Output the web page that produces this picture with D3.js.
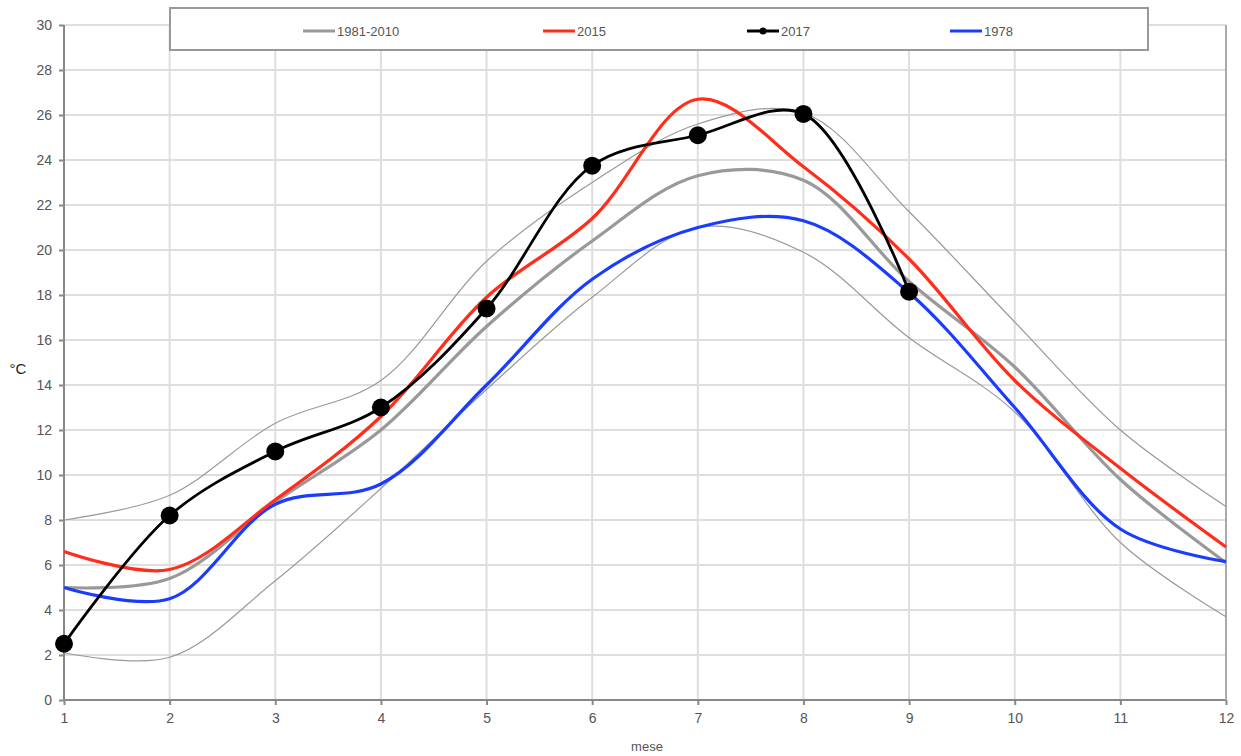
<!DOCTYPE html>
<html>
<head>
<meta charset="utf-8">
<script src="https://cdn.jsdelivr.net/npm/d3@7"></script>
<style>
  body { margin: 0; background: #fff; }
  svg { display: block; font-family: "Liberation Sans", Arial, sans-serif; }
</style>
</head>
<body>
<svg id="chart" width="1241" height="756"></svg>
<script>
const months = [1, 2, 3, 4, 5, 6, 7, 8, 9, 10, 11, 12];
const yTicks = [0, 2, 4, 6, 8, 10, 12, 14, 16, 18, 20, 22, 24, 26, 28, 30];
const mean19812010 = [5.0, 5.4, 8.8, 12.0, 16.6, 20.4, 23.3, 23.1, 18.6, 14.8, 9.8, 6.1];
const upper19812010 = [8.0, 9.1, 12.3, 14.2, 19.5, 23.0, 25.6, 26.1, 21.7, 16.8, 12.0, 8.6];
const lower19812010 = [2.1, 1.9, 5.3, 9.4, 13.8, 17.9, 21.0, 19.9, 16.1, 12.8, 7.0, 3.7];
const s2015 = [6.6, 5.8, 8.9, 12.6, 17.9, 21.4, 26.7, 23.7, 19.6, 14.2, 10.3, 6.8];
const s2017 = [2.5, 8.2, 11.05, 13.0, 17.4, 23.75, 25.1, 26.05, 18.15];
const s1978 = [5.0, 4.5, 8.7, 9.6, 14.0, 18.7, 21.0, 21.3, 18.1, 13.0, 7.6, 6.15];
const legendLabels = ["1981-2010", "2015", "2017", "1978"];

const svg = d3.select("#chart");
const L = 64, R = 1226, T = 25, B = 700;
const x = d3.scaleLinear().domain([1, 12]).range([L, R]);
const y = d3.scaleLinear().domain([0, 30]).range([B, T]);

// grid
const g = svg.append("g");
g.selectAll(".hg").data(yTicks).join("line")
  .attr("x1", L).attr("x2", R)
  .attr("y1", d => y(d)).attr("y2", d => y(d))
  .attr("stroke", "#dedede").attr("stroke-width", 2);
g.selectAll(".vg").data(months).join("line")
  .attr("y1", T).attr("y2", B)
  .attr("x1", d => x(d)).attr("x2", d => x(d))
  .attr("stroke", "#dedede").attr("stroke-width", 2);

// axes
const yAxis = d3.axisLeft(y).tickValues(yTicks).tickSize(5).tickPadding(7);
const xAxis = d3.axisBottom(x).tickValues(months).tickSize(5).tickPadding(8);
const ya = svg.append("g").attr("transform", `translate(${L},0)`).call(yAxis);
const xa = svg.append("g").attr("transform", `translate(0,${B})`).call(xAxis);
[ya, xa].forEach(a => {
  a.select(".domain").attr("stroke", "#888").attr("stroke-width", 2);
  a.selectAll(".tick line").attr("stroke", "#888").attr("stroke-width", 2);
  a.selectAll(".tick text").attr("fill", "#555").style("font-size", "14px");
});
ya.select(".domain").attr("d", `M0,${B}V${T}`);
xa.select(".domain").attr("d", `M${L},0H${R}`);
// right border
svg.append("line").attr("x1", R).attr("x2", R).attr("y1", T).attr("y2", B)
  .attr("stroke", "#aaa").attr("stroke-width", 2);

svg.append("text").attr("x", 18).attr("y", 374).attr("text-anchor", "middle")
  .attr("fill", "#222").style("font-size", "15px").text("°C");
svg.append("text").attr("x", 647).attr("y", 751).attr("text-anchor", "middle")
  .attr("fill", "#555").style("font-size", "13px").text("mese");

const line = d3.line().x((d, i) => x(months[i])).y(d => y(d)).curve(d3.curveCatmullRom.alpha(0.5));

const series = [
  { data: upper19812010, color: "#999", w: 1.2 },
  { data: lower19812010, color: "#999", w: 1.2 },
  { data: mean19812010, color: "#999", w: 3.2 },
  { data: s1978, color: "#1a3cff", w: 3.2 },
  { data: s2015, color: "#ff2d1a", w: 3.2 },
  { data: s2017, color: "#000", w: 2.8 }
];
series.forEach(s => {
  svg.append("path").datum(s.data).attr("d", line)
    .attr("fill", "none").attr("stroke", s.color).attr("stroke-width", s.w);
});
svg.selectAll(".dot").data(s2017).join("circle")
  .attr("cx", (d, i) => x(months[i])).attr("cy", d => y(d)).attr("r", 9).attr("fill", "#000");

// legend
const lg = svg.append("g");
lg.append("rect").attr("x", 170).attr("y", 8).attr("width", 978).attr("height", 42)
  .attr("fill", "#fff").attr("stroke", "#999").attr("stroke-width", 2);
const legColors = ["#999", "#ff2d1a", "#000", "#1a3cff"];
const legX = [303, 543, 747, 950];
legendLabels.forEach((lab, i) => {
  lg.append("line").attr("x1", legX[i]).attr("x2", legX[i] + 32).attr("y1", 31).attr("y2", 31)
    .attr("stroke", legColors[i]).attr("stroke-width", 3);
  if (i === 2) lg.append("circle").attr("cx", legX[i] + 16).attr("cy", 31).attr("r", 3.5).attr("fill", "#000");
  lg.append("text").attr("x", legX[i] + 34).attr("y", 35.5).attr("fill", "#555")
    .style("font-size", "13px").text(lab);
});
</script>
</body>
</html>
